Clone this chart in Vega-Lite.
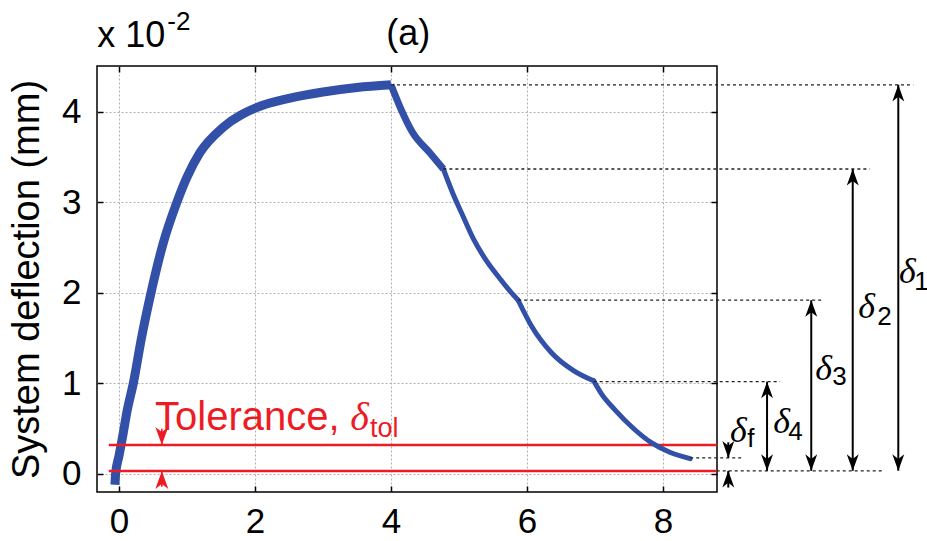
{
  "$schema": "https://vega.github.io/schema/vega-lite/v6.json",
  "width": 620,
  "height": 426,
  "autosize": {"type": "none"},
  "padding": {"left": 97, "top": 66, "right": 210, "bottom": 49},
  "background": "white",
  "config": {
    "font": "Liberation Sans",
    "view": {"stroke": "#000", "strokeWidth": 1.5},
    "axis": {
      "labelFont": "Liberation Sans",
      "labelFontSize": 35,
      "labelColor": "#000",
      "domain": false,
      "tickColor": "#000",
      "tickWidth": 1.5,
      "tickSize": -6,
      "labelPadding": 18,
      "labelOverlap": false,
      "labelFlush": false,
      "gridColor": "#b0b0b0",
      "gridDash": [2, 2],
      "gridWidth": 1,
      "titleFont": "Liberation Sans",
      "titleFontSize": 38,
      "titleFontWeight": "normal",
      "titleColor": "#000"
    }
  },
  "datasets": {
    "curve": [
      {"t": -0.06, "d": -0.12, "stage": "L"},
      {"t": -0.05, "d": 0.0, "stage": "L"},
      {"t": 0.0, "d": 0.2, "stage": "L"},
      {"t": 0.05, "d": 0.4, "stage": "L"},
      {"t": 0.12, "d": 0.7, "stage": "L"},
      {"t": 0.21, "d": 1.0, "stage": "L"},
      {"t": 0.33, "d": 1.5, "stage": "L"},
      {"t": 0.47, "d": 2.0, "stage": "L"},
      {"t": 0.65, "d": 2.55, "stage": "L"},
      {"t": 0.85, "d": 3.0, "stage": "L"},
      {"t": 1.0, "d": 3.28, "stage": "L"},
      {"t": 1.19, "d": 3.55, "stage": "L"},
      {"t": 1.53, "d": 3.83, "stage": "L"},
      {"t": 2.03, "d": 4.05, "stage": "L"},
      {"t": 2.5, "d": 4.15, "stage": "L"},
      {"t": 3.0, "d": 4.22, "stage": "L"},
      {"t": 3.5, "d": 4.27, "stage": "L"},
      {"t": 4.0, "d": 4.3, "stage": "L"},
      {"t": 4.0, "d": 4.3, "stage": "U1"},
      {"t": 4.13, "d": 4.06, "stage": "U1"},
      {"t": 4.32, "d": 3.77, "stage": "U1"},
      {"t": 4.57, "d": 3.55, "stage": "U1"},
      {"t": 4.77, "d": 3.37, "stage": "U1"},
      {"t": 4.77, "d": 3.37, "stage": "U2"},
      {"t": 4.91, "d": 3.1, "stage": "U2"},
      {"t": 5.04, "d": 2.88, "stage": "U2"},
      {"t": 5.21, "d": 2.6, "stage": "U2"},
      {"t": 5.4, "d": 2.36, "stage": "U2"},
      {"t": 5.6, "d": 2.16, "stage": "U2"},
      {"t": 5.75, "d": 2.02, "stage": "U2"},
      {"t": 5.87, "d": 1.92, "stage": "U2"},
      {"t": 5.87, "d": 1.92, "stage": "U3"},
      {"t": 6.07, "d": 1.63, "stage": "U3"},
      {"t": 6.36, "d": 1.34, "stage": "U3"},
      {"t": 6.69, "d": 1.14, "stage": "U3"},
      {"t": 6.98, "d": 1.03, "stage": "U3"},
      {"t": 6.98, "d": 1.03, "stage": "U4"},
      {"t": 7.1, "d": 0.88, "stage": "U4"},
      {"t": 7.28, "d": 0.72, "stage": "U4"},
      {"t": 7.57, "d": 0.5, "stage": "U4"},
      {"t": 7.84, "d": 0.34, "stage": "U4"},
      {"t": 8.1, "d": 0.24, "stage": "U4"},
      {"t": 8.4, "d": 0.17, "stage": "U4"}
    ],
    "guides": [
      {"x": 4.0, "x2": 11.68, "y": 4.3},
      {"x": 4.77, "x2": 11.04, "y": 3.37},
      {"x": 5.87, "x2": 10.34, "y": 1.92},
      {"x": 6.98, "x2": 9.72, "y": 1.02},
      {"x": 8.4, "x2": 9.16, "y": 0.177},
      {"x": 8.79, "x2": 11.24, "y": 0.035}
    ],
    "tolerance": [
      {"x": -0.15, "x2": 8.79, "y": 0.32},
      {"x": -0.15, "x2": 8.79, "y": 0.033}
    ],
    "stems": [
      {"x": 11.46, "y": 0.035, "y2": 4.3, "grp": "black"},
      {"x": 10.79, "y": 0.035, "y2": 3.37, "grp": "black"},
      {"x": 10.18, "y": 0.035, "y2": 1.92, "grp": "black"},
      {"x": 9.53, "y": 0.035, "y2": 1.02, "grp": "black"},
      {"x": 8.96, "y": 0.35, "y2": 0.18, "grp": "black"},
      {"x": 8.96, "y": 0.035, "y2": -0.15, "grp": "black"},
      {"x": 0.63, "y": 0.5, "y2": 0.32, "grp": "red"},
      {"x": 0.63, "y": 0.033, "y2": -0.14, "grp": "red"}
    ],
    "heads": [
      {"x": 11.46, "y": 4.3, "dir": "up", "grp": "black"},
      {"x": 11.46, "y": 0.035, "dir": "down", "grp": "black"},
      {"x": 10.79, "y": 3.37, "dir": "up", "grp": "black"},
      {"x": 10.79, "y": 0.035, "dir": "down", "grp": "black"},
      {"x": 10.18, "y": 1.92, "dir": "up", "grp": "black"},
      {"x": 10.18, "y": 0.035, "dir": "down", "grp": "black"},
      {"x": 9.53, "y": 1.02, "dir": "up", "grp": "black"},
      {"x": 9.53, "y": 0.035, "dir": "down", "grp": "black"},
      {"x": 8.96, "y": 0.18, "dir": "down", "grp": "black"},
      {"x": 8.96, "y": 0.035, "dir": "up", "grp": "black"},
      {"x": 0.63, "y": 0.32, "dir": "down", "grp": "red"},
      {"x": 0.63, "y": 0.033, "dir": "up", "grp": "red"}
    ],
    "labels": [
      {"x": -0.32, "y": 4.72, "text": "x 10", "kind": "main", "grp": "black"},
      {"x": 0.71, "y": 4.91, "text": "-2", "kind": "sub", "grp": "black"},
      {"x": 3.93, "y": 4.74, "text": "(a)", "kind": "main", "grp": "black"},
      {"x": 0.53, "y": 0.486, "text": "Tolerance,", "kind": "main", "grp": "red"},
      {"x": 3.4, "y": 0.486, "text": "δ", "kind": "greek", "grp": "red"},
      {"x": 3.69, "y": 0.41, "text": "tol", "kind": "sub", "grp": "red"},
      {"x": 11.47, "y": 2.11, "text": "δ", "kind": "greek", "grp": "black"},
      {"x": 11.695, "y": 2.03, "text": "1", "kind": "sub", "grp": "black"},
      {"x": 10.87, "y": 1.72, "text": "δ", "kind": "greek", "grp": "black"},
      {"x": 11.15, "y": 1.65, "text": "2", "kind": "sub", "grp": "black"},
      {"x": 10.24, "y": 1.04, "text": "δ", "kind": "greek", "grp": "black"},
      {"x": 10.49, "y": 0.98, "text": "3", "kind": "sub", "grp": "black"},
      {"x": 9.62, "y": 0.45, "text": "δ", "kind": "greek", "grp": "black"},
      {"x": 9.84, "y": 0.38, "text": "4", "kind": "sub", "grp": "black"},
      {"x": 8.985, "y": 0.35, "text": "δ", "kind": "greek", "grp": "black"},
      {"x": 9.24, "y": 0.3, "text": "f", "kind": "sub", "grp": "black"}
    ]
  },
  "resolve": {"axis": {"x": "independent", "y": "independent"}},
  "layer": [
    {
      "data": {"name": "curve"},
      "transform": [{"filter": "datum.stage === 'L'"}],
      "mark": {"type": "line", "color": "#3350A8", "strokeWidth": 9, "strokeCap": "butt", "strokeJoin": "round", "interpolate": "monotone"},
      "encoding": {
        "x": {"field": "t", "type": "quantitative",
              "scale": {"domain": [-0.3235, 8.794], "nice": false, "zero": false},
              "axis": {"orient": "bottom", "values": [0, 2, 4, 6, 8], "title": null, "grid": true, "format": "d"}},
        "y": {"field": "d", "type": "quantitative",
              "scale": {"domain": [-0.199, 4.508], "nice": false, "zero": false},
              "axis": {"orient": "left", "values": [0, 1, 2, 3, 4], "title": "System deflection (mm)", "grid": true, "format": "d", "labelPadding": 22, "titlePadding": 15}}
      }
    },
    {
      "data": {"name": "tolerance"},
      "mark": {"type": "rule", "color": "#ED1C24", "strokeWidth": 2.5},
      "encoding": {
        "x": {"field": "x", "type": "quantitative",
              "axis": {"orient": "top", "values": [0, 2, 4, 6, 8], "labels": false, "title": null, "grid": false}},
        "x2": {"field": "x2"},
        "y": {"field": "y", "type": "quantitative",
              "axis": {"orient": "right", "values": [0, 1, 2, 3, 4], "labels": false, "title": null, "grid": false}}
      }
    },
    {
      "data": {"name": "curve"},
      "transform": [{"filter": "datum.stage === 'U1'"}],
      "mark": {"type": "line", "color": "#3350A8", "strokeWidth": 7, "strokeJoin": "round", "interpolate": "monotone"},
      "encoding": {
        "x": {"field": "t", "type": "quantitative", "axis": null},
        "y": {"field": "d", "type": "quantitative", "axis": null}
      }
    },
    {
      "data": {"name": "curve"},
      "transform": [{"filter": "datum.stage !== 'L' && datum.stage !== 'U1'"}],
      "mark": {"type": "line", "color": "#3350A8", "strokeWidth": 5, "strokeJoin": "round", "strokeCap": "round", "interpolate": "monotone"},
      "encoding": {
        "x": {"field": "t", "type": "quantitative", "axis": null},
        "y": {"field": "d", "type": "quantitative", "axis": null},
        "detail": {"field": "stage", "type": "nominal"}
      }
    },
    {
      "data": {"name": "guides"},
      "mark": {"type": "rule", "color": "#222", "strokeWidth": 1.3, "strokeDash": [3, 3]},
      "encoding": {
        "x": {"field": "x", "type": "quantitative", "axis": null},
        "x2": {"field": "x2"},
        "y": {"field": "y", "type": "quantitative", "axis": null}
      }
    },
    {
      "data": {"name": "stems"},
      "transform": [{"filter": "datum.grp === 'black'"}],
      "mark": {"type": "rule", "color": "#000", "strokeWidth": 2},
      "encoding": {
        "x": {"field": "x", "type": "quantitative", "axis": null},
        "y": {"field": "y", "type": "quantitative", "axis": null},
        "y2": {"field": "y2"}
      }
    },
    {
      "data": {"name": "stems"},
      "transform": [{"filter": "datum.grp === 'red'"}],
      "mark": {"type": "rule", "color": "#ED1C24", "strokeWidth": 1.6},
      "encoding": {
        "x": {"field": "x", "type": "quantitative", "axis": null},
        "y": {"field": "y", "type": "quantitative", "axis": null},
        "y2": {"field": "y2"}
      }
    },
    {
      "data": {"name": "heads"},
      "transform": [{"filter": "datum.grp === 'black'"}],
      "mark": {"type": "point", "filled": true, "size": 1100, "color": "#000", "opacity": 1, "strokeWidth": 0},
      "encoding": {
        "x": {"field": "x", "type": "quantitative", "axis": null},
        "y": {"field": "y", "type": "quantitative", "axis": null},
        "shape": {"field": "dir", "type": "nominal", "legend": null,
                  "scale": {"domain": ["up", "down"], "range": ["M0,0L-0.36,1L0,0.72L0.36,1Z", "M0,0L-0.36,-1L0,-0.72L0.36,-1Z"]}}
      }
    },
    {
      "data": {"name": "heads"},
      "transform": [{"filter": "datum.grp === 'red'"}],
      "mark": {"type": "point", "filled": true, "size": 1300, "color": "#ED1C24", "opacity": 1, "strokeWidth": 0},
      "encoding": {
        "x": {"field": "x", "type": "quantitative", "axis": null},
        "y": {"field": "y", "type": "quantitative", "axis": null},
        "shape": {"field": "dir", "type": "nominal", "legend": null,
                  "scale": {"domain": ["up", "down"], "range": ["M0,0L-0.42,1L-0.08,0.5L0,0.75L0.08,0.5L0.42,1Z", "M0,0L-0.42,-1L-0.08,-0.5L0,-0.75L0.08,-0.5L0.42,-1Z"]}}
      }
    },
    {
      "data": {"name": "labels"},
      "transform": [{"filter": "datum.kind === 'main' && datum.grp === 'black'"}],
      "mark": {"type": "text", "font": "Liberation Sans", "fontSize": 36, "color": "#000", "align": "left", "baseline": "alphabetic"},
      "encoding": {
        "x": {"field": "x", "type": "quantitative", "axis": null},
        "y": {"field": "y", "type": "quantitative", "axis": null},
        "text": {"field": "text"}
      }
    },
    {
      "data": {"name": "labels"},
      "transform": [{"filter": "datum.kind === 'sub' && datum.grp === 'black'"}],
      "mark": {"type": "text", "font": "Liberation Sans", "fontSize": 26, "color": "#000", "align": "left", "baseline": "alphabetic"},
      "encoding": {
        "x": {"field": "x", "type": "quantitative", "axis": null},
        "y": {"field": "y", "type": "quantitative", "axis": null},
        "text": {"field": "text"}
      }
    },
    {
      "data": {"name": "labels"},
      "transform": [{"filter": "datum.kind === 'greek' && datum.grp === 'black'"}],
      "mark": {"type": "text", "font": "Liberation Serif", "fontStyle": "italic", "fontSize": 36, "color": "#000", "align": "left", "baseline": "alphabetic"},
      "encoding": {
        "x": {"field": "x", "type": "quantitative", "axis": null},
        "y": {"field": "y", "type": "quantitative", "axis": null},
        "text": {"field": "text"}
      }
    },
    {
      "data": {"name": "labels"},
      "transform": [{"filter": "datum.kind === 'main' && datum.grp === 'red'"}],
      "mark": {"type": "text", "font": "Liberation Sans", "fontSize": 40, "color": "#ED1C24", "align": "left", "baseline": "alphabetic"},
      "encoding": {
        "x": {"field": "x", "type": "quantitative", "axis": null},
        "y": {"field": "y", "type": "quantitative", "axis": null},
        "text": {"field": "text"}
      }
    },
    {
      "data": {"name": "labels"},
      "transform": [{"filter": "datum.kind === 'sub' && datum.grp === 'red'"}],
      "mark": {"type": "text", "font": "Liberation Sans", "fontSize": 27, "color": "#ED1C24", "align": "left", "baseline": "alphabetic"},
      "encoding": {
        "x": {"field": "x", "type": "quantitative", "axis": null},
        "y": {"field": "y", "type": "quantitative", "axis": null},
        "text": {"field": "text"}
      }
    },
    {
      "data": {"name": "labels"},
      "transform": [{"filter": "datum.kind === 'greek' && datum.grp === 'red'"}],
      "mark": {"type": "text", "font": "Liberation Serif", "fontStyle": "italic", "fontSize": 40, "color": "#ED1C24", "align": "left", "baseline": "alphabetic"},
      "encoding": {
        "x": {"field": "x", "type": "quantitative", "axis": null},
        "y": {"field": "y", "type": "quantitative", "axis": null},
        "text": {"field": "text"}
      }
    }
  ]
}
